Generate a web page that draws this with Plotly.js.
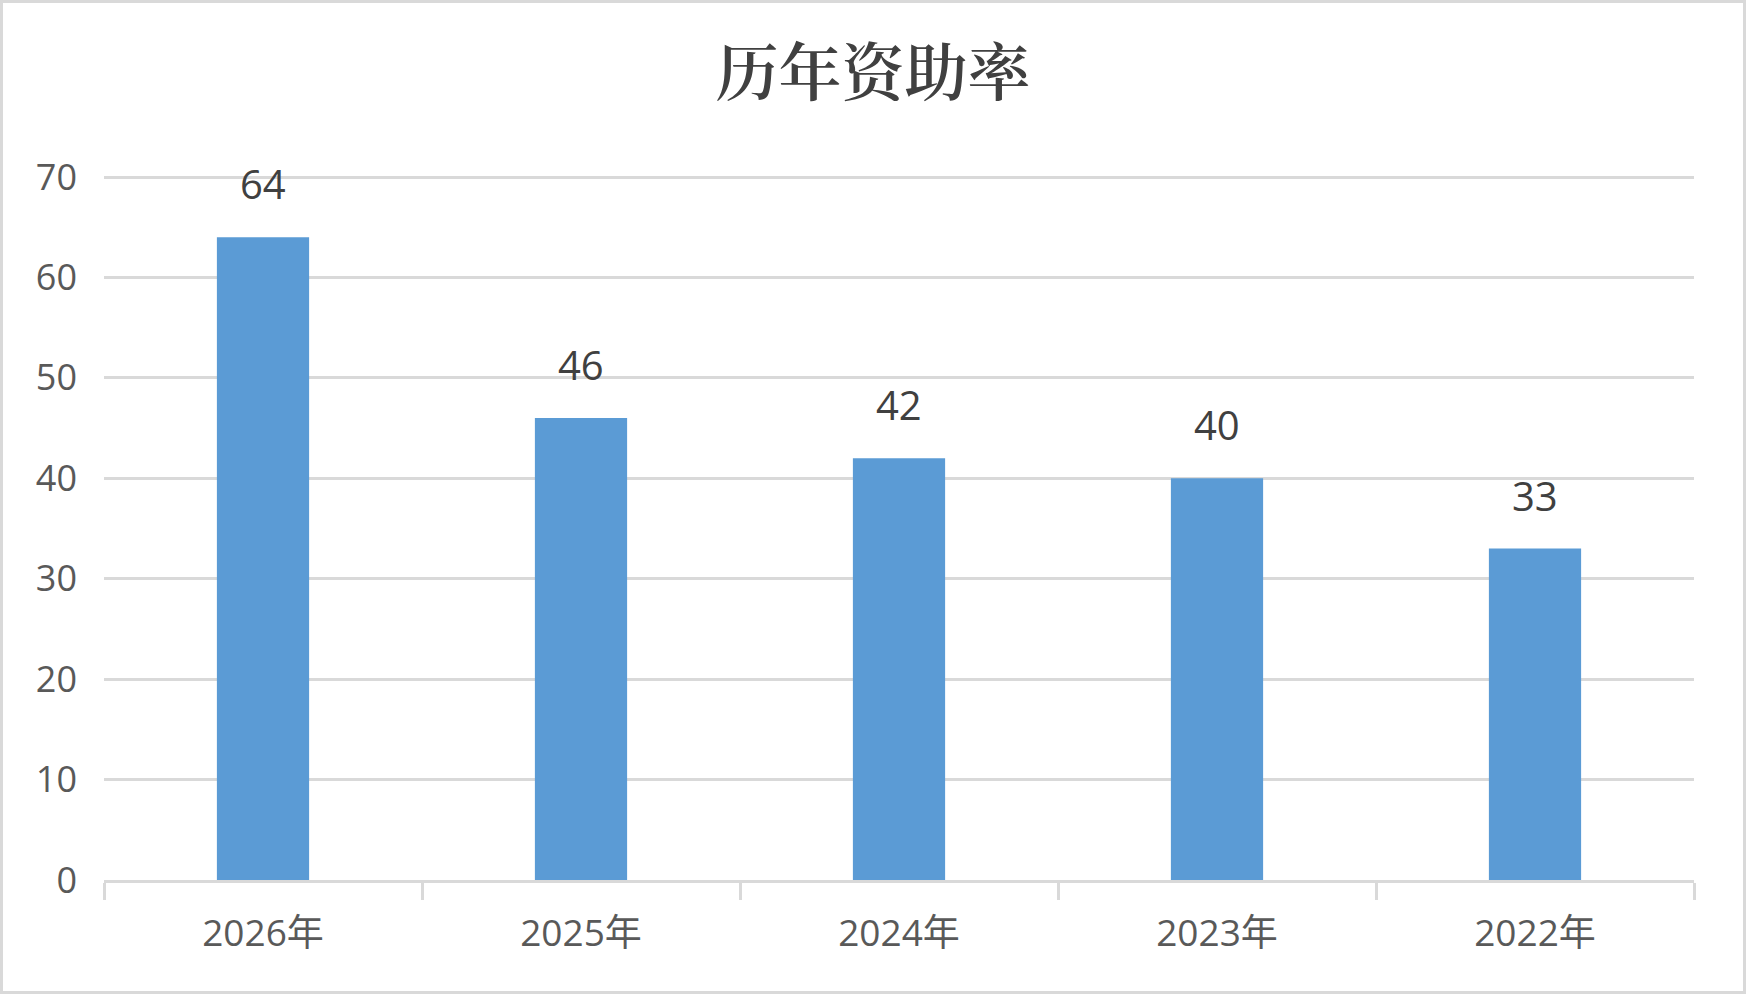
<!DOCTYPE html>
<html>
<head>
<meta charset="utf-8">
<script src="https://cdn.plot.ly/plotly-3.0.1.min.js"></script>
<style>
  body { margin: 0; background: #ffffff; }
  #wrap { position: relative; width: 1746px; height: 994px; }
  #plot { width: 1746px; height: 994px; }
  #frame {
    position: absolute; left: 0; top: 0; width: 1746px; height: 994px;
    box-sizing: border-box; border: 3px solid #d9d9d9; pointer-events: none;
  }
</style>
</head>
<body>
<div id="wrap">
  <div id="plot"></div>
  <div id="frame"></div>
</div>
<script>
const years = ["2026年", "2025年", "2024年", "2023年", "2022年"];
const rates = [64, 46, 42, 40, 33];
const yTicks = [0, 10, 20, 30, 40, 50, 60, 70];

const LABEL_FONT = "Open Sans, Noto Sans CJK SC, sans-serif";
const GRID = "#d9d9d9";

const trace = {
  type: "bar",
  x: years,
  y: rates,
  marker: { color: "#5b9bd5" },
  hoverinfo: "x+y",
};

// data labels sit well above the bars, so they are annotations
const labels = years.map((yr, i) => ({
  x: yr,
  y: rates[i],
  xref: "x",
  yref: "y",
  text: String(rates[i]),
  showarrow: false,
  yanchor: "bottom",
  yshift: 24,
  font: { family: LABEL_FONT, size: 40, color: "#404040" },
}));

const layout = {
  width: 1746,
  height: 994,
  paper_bgcolor: "#ffffff",
  plot_bgcolor: "#ffffff",
  margin: { l: 104, r: 52, t: 175, b: 114 },
  bargap: 0.71,
  showlegend: false,
  title: {
    text: "历年资助率",
    font: { family: "Noto Serif CJK SC, Noto Sans CJK SC, serif", size: 63, weight: 600, color: "#404040" },
    x: 0.5,
    xanchor: "center",
    y: 1 - 73 / 994,
    yref: "container",
    yanchor: "middle",
  },
  xaxis: {
    type: "category",
    showgrid: false,
    showline: true,
    linecolor: GRID,
    linewidth: 3,
    ticks: "outside",
    tickson: "boundaries",
    ticklen: 17,
    tickwidth: 3,
    tickcolor: GRID,
    ticklabelstandoff: 19,
    tickfont: { family: LABEL_FONT, size: 37, color: "#595959" },
    fixedrange: true,
  },
  yaxis: {
    range: [0, 70.2],
    tickvals: yTicks,
    showline: false,
    zeroline: false,
    showgrid: true,
    gridcolor: GRID,
    gridwidth: 3,
    ticks: "",
    ticklabelstandoff: 26,
    tickfont: { family: LABEL_FONT, size: 36, color: "#595959" },
    fixedrange: true,
  },
  annotations: labels,
};

Plotly.newPlot("plot", [trace], layout, { displayModeBar: false, staticPlot: true });
</script>
</body>
</html>
